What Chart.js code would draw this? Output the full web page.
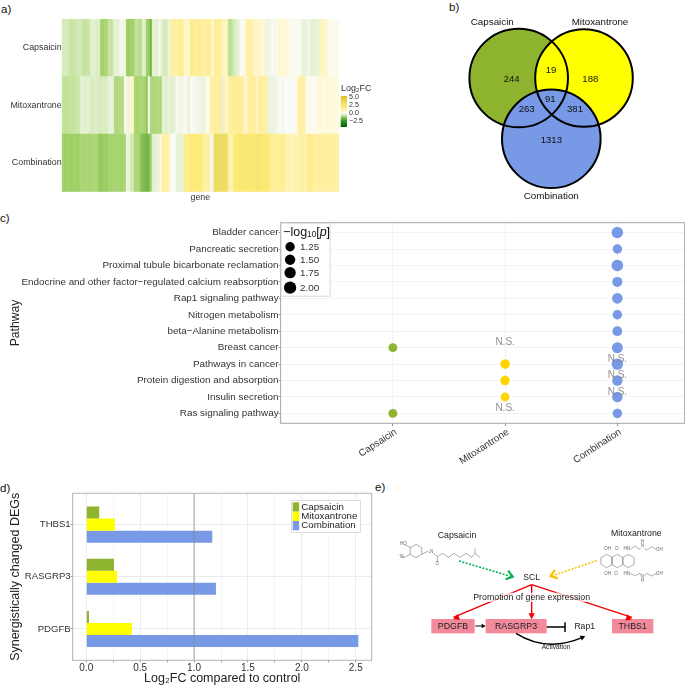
<!DOCTYPE html>
<html><head><meta charset="utf-8">
<script src="https://cdn.jsdelivr.net/npm/chart.js@4"></script>
<style>
html,body{margin:0;padding:0;background:#fff;width:685px;height:688px;overflow:hidden}
canvas{position:absolute;filter:blur(0.35px)}
.tag{position:absolute;font:11.5px "Liberation Sans",Arial,sans-serif;color:#111;line-height:14px}
</style></head><body>
<div class="tag" style="left:1px;top:2px">a)</div>
<div class="tag" style="left:449px;top:0px">b)</div>
<div class="tag" style="left:0px;top:211px">c)</div>
<div class="tag" style="left:0px;top:481px">d)</div>
<div class="tag" style="left:375px;top:480px">e)</div>
<script>
// ---------- panel a data ----------
const heatRows = ['Capsaicin','Mitoxantrone','Combination'];
const heatCapsaicin = [-0.55,-0.5,-0.55,-0.6,-0.75,-0.7,-0.7,-0.6,-0.55,-0.6,-0.75,-0.8,-0.7,-0.7,-0.4,-0.35,-0.4,-0.45,-0.4,-1.1,-1.2,-1.1,-1.05,-0.7,-0.8,-0.6,-0.25,-0.35,-0.25,-0.1,-0.15,-0.1,-1.25,-1.3,-1.2,-1.25,-0.9,-0.85,-0.9,-0.95,-0.4,-0.35,-1.2,-1.3,-1.7,-0.35,-0.3,-0.4,-0.15,-0.2,-0.5,-0.55,-0.5,-0.2,1.0,1.1,1.0,1.0,1.4,1.3,1.3,0.5,0.6,0.4,1.5,1.5,1.1,1.3,1.3,1.3,0.9,1.2,1.2,1.3,1.2,0.1,1.3,1.4,1.3,1.2,0.6,0.8,0.5,-0.8,-0.9,-0.7,-0.5,-0.4,-0.35,0.05,0.1,0.05,1.0,1.1,0.9,0.9,0.6,0.5,0.6,0.5,0.4,0.5,-0.15,-0.2,-0.1,0.0,-0.1,-0.05,0.4,0.5,0.4,0.3,0.4,0.2,0.1,0.05,0.1,0.1,0.05,0.1,-0.3,-0.25,-0.25,-0.1,-0.3,-0.35,-0.3,-0.3,-0.25,0.7,0.6,0.6,0.5,0.1,0.05,0.1,0.05,0.1,0.05];
const heatMitoxantrone = [-0.8,-0.85,-0.8,-0.8,-0.75,-0.8,-0.7,-0.7,-0.65,-0.35,-0.3,-0.4,-0.35,-0.35,-0.45,-0.5,-0.4,-0.45,-0.5,-0.55,-0.5,-0.5,-0.45,-0.3,-0.25,-0.3,-1.0,-1.05,-1.0,-0.95,-1.0,0.3,-0.15,-0.2,0.5,0.6,-1.1,-1.15,-1.1,-1.1,-1.1,-1.2,-1.4,0.05,-1.05,-1.1,-1.05,-1.05,-1.0,-1.1,-0.3,-0.35,-0.4,-0.3,-0.35,-0.4,-0.3,0.1,-0.1,-0.15,-0.1,-0.05,-0.1,-0.3,-0.05,-0.05,-0.05,-0.15,-0.1,-0.2,-0.25,-0.2,0.1,0.05,1.0,1.0,1.3,1.0,1.2,1.2,-0.3,0.9,0.4,1.0,1.3,1.4,1.3,1.3,1.4,1.3,1.2,0.6,0.5,1.2,1.1,1.2,1.2,0.5,1.1,1.2,1.1,1.0,1.1,-0.2,-0.25,-0.2,-0.2,-0.15,-0.05,0.0,-0.1,-0.05,0.0,-0.05,0.0,0.0,0.05,0.0,1.0,1.1,1.0,0.9,0.1,0.2,0.1,0.05,0.2,0.1,0.3,0.4,0.3,0.2,0.4,0.3,0.3,0.2,0.3,0.2,0.3];
const heatCombination = [-1.2,-1.25,-1.2,-1.2,-1.25,-1.2,-1.2,-1.25,-1.2,-1.1,-1.15,-1.1,-1.1,-1.15,-1.1,-1.1,-1.05,-1.1,-1.3,-1.35,-1.3,-1.25,-1.3,-1.15,-1.2,-1.15,-1.15,-1.1,-1.15,-1.2,-1.15,-1.1,-0.2,-0.25,-0.6,-0.6,-1.1,-1.05,-1.1,-1.4,-1.5,-1.6,-1.7,-1.6,-1.2,-0.4,-0.35,-0.3,-0.25,0.3,1.0,1.1,1.0,0.9,0.05,0.0,0.05,-0.3,-0.35,-0.3,-0.25,1.5,1.6,1.5,2.0,2.1,2.0,2.0,1.9,2.0,1.3,1.2,0.9,1.3,-0.1,-0.15,3.4,3.5,3.4,3.4,3.3,3.4,3.2,1.4,0.8,1.0,2.2,2.1,2.2,2.3,2.2,2.3,2.1,2.2,2.3,2.2,2.2,2.3,2.4,2.3,2.2,2.2,2.3,2.2,1.3,1.4,1.3,1.2,1.4,1.3,1.3,1.4,0.8,0.9,0.8,0.7,0.9,0.8,0.9,1.0,1.1,0.9,1.0,1.6,1.5,1.4,1.1,1.0,1.1,1.2,1.1,1.0,1.1,1.2,1.1,1.0,1.1,1.0,1.1];
const heatLegendTicks = [5.0,2.5,0.0,-2.5];
// ---------- panel b data ----------
const vennSets = ['Capsaicin','Mitoxantrone','Combination'];
const vennCounts = [244,19,188,263,91,381,1313];
// ---------- panel c data ----------
const pathways = ['Bladder cancer','Pancreatic secretion','Proximal tubule bicarbonate reclamation','Endocrine and other factor\u2212regulated calcium reabsorption','Rap1 signaling pathway','Nitrogen metabolism','beta\u2212Alanine metabolism','Breast cancer','Pathways in cancer','Protein digestion and absorption','Insulin secretion','Ras signaling pathway'];
const treatments = ['Capsaicin','Mitoxantrone','Combination'];
const pCapsaicin = [null,null,null,null,null,null,null,1.25,null,null,null,1.25];
const pMitoxantrone = [null,null,null,null,null,null,null,null,1.46,1.41,1.25,null];
const pCombination = [1.93,1.41,2.0,1.57,1.72,1.41,1.51,1.83,1.93,1.67,1.67,1.41];
const nsMitoxantrone = ['Breast cancer','Ras signaling pathway'];
const nsCombination = ['Pathways in cancer','Protein digestion and absorption','Insulin secretion'];
const pLegend = [1.25,1.5,1.75,2.0];
// ---------- panel d data ----------
const degGenes = ['PDGFB','RASGRP3','THBS1'];
const fcCapsaicin = [0.025,0.257,0.12];
const fcMitoxantrone = [0.424,0.285,0.266];
const fcCombination = [2.524,1.203,1.169];
const fcTicks = [0,0.25,0.5,0.75,1,1.25,1.5,1.75,2,2.25,2.5];
const fcReference = 1;

// ---------- shared ----------
const FONT = '"Liberation Sans",Arial,sans-serif';
Chart.defaults.font.family = FONT;
Chart.defaults.animation = false;
Chart.defaults.responsive = false;
Chart.defaults.devicePixelRatio = 1;
Chart.defaults.events = [];
Chart.defaults.plugins.legend.display = false;
Chart.defaults.plugins.tooltip.enabled = false;
const GREEN='#8DB32F', YELLOW='#FFFF00', BLUE='#7799E6', GOLD='#FFD500', INK='#333333';

function place(x,y,w,h){
  const c=document.createElement('canvas');
  c.width=w;c.height=h;c.style.left=x+'px';c.style.top=y+'px';
  document.body.appendChild(c);return c.getContext('2d');
}
function fitW(w){return s=>{s.width=w;};}
function fitH(h){return s=>{s.height=h;};}
const frame = color=>({id:'frame',afterDraw(ch){const a=ch.chartArea,c=ch.ctx;c.save();c.strokeStyle=color;c.lineWidth=1;c.strokeRect(a.left,a.top,a.right-a.left,a.bottom-a.top);c.restore();}});

// colour scale for log2FC
const fcStops=[[-4.4,'#005f00'],[-2.5,'#2e9420'],[-1.6,'#79b84a'],[-1.2,'#a3d16a'],[-0.8,'#c3e29b'],[-0.4,'#e0efcc'],[-0.1,'#f4f8ec'],[0,'#fbfbf5'],[0.3,'#fff9dc'],[1,'#fff0a6'],[2,'#fdea78'],[3.4,'#eddc62'],[5,'#e3c52c'],[5.31,'#dfbf24']];
function hex(h){return [1,3,5].map(i=>parseInt(h.substr(i,2),16));}
function fcColor(v){
  for(let i=1;i<fcStops.length;i++){
    if(v<=fcStops[i][0]){
      const [a,ca]=fcStops[i-1],[b,cb]=fcStops[i],t=Math.max(0,(v-a)/(b-a)),A=hex(ca),B=hex(cb);
      return 'rgb('+A.map((q,k)=>Math.round(q+(B[k]-q)*t)).join(',')+')';
    }
  }
  return fcStops[fcStops.length-1][1];
}

// ---------- panel a ----------
const heatSeries=[heatCapsaicin,heatMitoxantrone,heatCombination];
new Chart(place(0,0,440,210),{
  type:'bar',
  data:{labels:heatRows,datasets:heatCapsaicin.map((_,g)=>({
    label:'gene '+(g+1),
    data:heatRows.map(()=>1),
    backgroundColor:heatSeries.map(s=>fcColor(s[g])),
    borderWidth:0,barPercentage:1,categoryPercentage:1
  }))},
  options:{
    indexAxis:'y',
    layout:{padding:{top:19,right:101,left:0,bottom:0}},
    scales:{
      x:{type:'linear',stacked:true,min:0,max:heatCapsaicin.length,grid:{display:false},border:{display:false},
         ticks:{display:false},title:{display:true,text:'gene',color:INK,font:{size:8.9},padding:{top:0,bottom:7}},afterFit:fitH(18.3)},
      y:{stacked:true,grid:{display:false,drawTicks:false},border:{display:false},ticks:{color:INK,font:{size:8.9},padding:0},afterFit:fitW(61.7)}
    }
  },
  plugins:[{id:'heatLegend',afterDraw(ch){
    const c=ch.ctx,top=96,bot=127,x=340.7,w=6.3,hi=5.31,lo=-4.375;
    const g=c.createLinearGradient(0,top,0,bot);
    fcStops.forEach(([v])=>{g.addColorStop(Math.min(1,Math.max(0,(hi-v)/(hi-lo))),fcColor(v));});
    c.save();c.fillStyle=g;c.fillRect(x,top,w,bot-top);
    c.fillStyle=INK;c.font='9px '+FONT;c.textBaseline='middle';c.textAlign='left';
    c.fillText('Log\u2082FC',341,88.7);
    c.font='7.1px '+FONT;
    heatLegendTicks.forEach(v=>{c.fillText(v.toFixed(1).replace('-','\u2212'),349,top+(hi-v)/(hi-lo)*(bot-top)+0.5);});
    c.restore();
  }}]
});

// ---------- panel b ----------
const vennLayout=[{x:78.7,y:78,r:49.3,c:GREEN},{x:144,y:78,r:48.8,c:YELLOW},{x:111.3,y:138.8,r:49.3,c:BLUE}];
const vennCountSpots=[[71.7,79.3],[111,70],[150.3,79.3],[86.7,109.7],[110.3,99.3],[135,109.7],[111.3,140.3]];
const vennNameSpots=[[52.3,22.3],[160,22.3],[111.3,196.7]];
new Chart(place(440,0,245,210),{
  type:'bubble',
  data:{datasets:[
    ...vennLayout.map((v,i)=>({label:vennSets[i]+' outline',data:[{x:v.x,y:v.y,r:v.r}],backgroundColor:'rgba(0,0,0,0)',borderColor:'#000',borderWidth:2,clip:false})),
    ...vennLayout.slice().reverse().map((v,i)=>({label:vennSets[2-i],data:[{x:v.x,y:v.y,r:v.r}],backgroundColor:v.c,borderWidth:0,clip:false}))
  ]},
  options:{layout:{autoPadding:false},scales:{x:{display:false,min:0,max:245},y:{display:false,min:0,max:210,reverse:true}}},
  plugins:[{id:'vennText',afterDatasetsDraw(ch){
    const c=ch.ctx,X=ch.scales.x,Y=ch.scales.y;
    c.save();c.textAlign='center';c.textBaseline='middle';c.fillStyle='#111';
    c.font='9.6px '+FONT;
    vennCounts.forEach((n,i)=>c.fillText(String(n),X.getPixelForValue(vennCountSpots[i][0]),Y.getPixelForValue(vennCountSpots[i][1])));
    c.font='9.8px '+FONT;
    vennSets.forEach((n,i)=>c.fillText(n,X.getPixelForValue(vennNameSpots[i][0]),Y.getPixelForValue(vennNameSpots[i][1])));
    c.restore();
  }}]
});

// ---------- panel c ----------
const rowPos=name=>pathways.length-pathways.indexOf(name);
const pRadius=p=>4.4+1.9*(p-1.25);
const dotData=(arr,col)=>arr.map((p,i)=>p==null?null:{x:col,y:pathways.length-i,r:pRadius(p)}).filter(Boolean);
new Chart(place(0,210,685,260),{
  type:'bubble',
  data:{datasets:[
    {label:'Capsaicin',data:dotData(pCapsaicin,1),backgroundColor:GREEN,borderWidth:0},
    {label:'Mitoxantrone',data:dotData(pMitoxantrone,2),backgroundColor:GOLD,borderWidth:0},
    {label:'Combination',data:dotData(pCombination,3),backgroundColor:BLUE,borderWidth:0}
  ]},
  options:{
    layout:{autoPadding:false,padding:{top:12.7,right:0.3,left:0,bottom:0}},
    scales:{
      x:{type:'linear',min:0,max:3.6,
         afterBuildTicks:a=>{a.ticks=treatments.map((_,i)=>({value:i+1}));},
         grid:{color:'#f3f3f3',tickColor:'#999',tickLength:3},border:{display:false},
         ticks:{autoSkip:false,minRotation:33,maxRotation:33,color:INK,font:{size:9.8},padding:0,labelOffset:3,callback:v=>treatments[v-1]},
         afterFit:fitH(46.7)},
      y:{type:'linear',min:0.4,max:12.6,
         afterBuildTicks:a=>{a.ticks=pathways.map((_,i)=>({value:i+1}));},
         grid:{color:'#f3f3f3',tickColor:'#999',tickLength:2},border:{display:false},
         ticks:{autoSkip:false,color:INK,font:{size:9.9},padding:0,callback:v=>pathways[pathways.length-v]},
         title:{display:true,text:'Pathway',color:'#222',font:{size:12.2},padding:{top:8,bottom:0}},
         afterFit:fitW(280.6)}
    }
  },
  plugins:[frame('#a6a6a6'),{id:'nsAndLegend',afterDraw(ch){
    const c=ch.ctx,X=ch.scales.x,Y=ch.scales.y;
    c.save();
    c.font='10px '+FONT;c.textAlign='center';c.textBaseline='middle';c.fillStyle='rgba(130,130,130,0.9)';
    nsMitoxantrone.forEach(n=>c.fillText('N.S.',X.getPixelForValue(2),Y.getPixelForValue(rowPos(n))-5));
    nsCombination.forEach(n=>c.fillText('N.S.',X.getPixelForValue(3),Y.getPixelForValue(rowPos(n))-5));
    // size legend
    const bx=ch.chartArea.left,by=ch.chartArea.top;
    c.fillStyle='#fff';c.strokeStyle='#d9d9d9';c.lineWidth=1;
    c.fillRect(bx+0.5,by+0.5,49,73);c.strokeRect(bx+0.5,by+0.5,49,73);
    c.fillStyle='#111';c.textAlign='left';
    let tx=bx+2.5;const ty=by+9.5;
    const part=(t,f,dy)=>{c.font=f;c.fillText(t,tx,ty+dy);tx+=c.measureText(t).width;};
    part('\u2212log','12.5px '+FONT,0);part('10','8.2px '+FONT,3);part('[','12.5px '+FONT,0);part('p','italic 12.5px '+FONT,0);part(']','12.5px '+FONT,0);
    const rows=[24,37,50,65];
    pLegend.forEach((p,i)=>{
      c.beginPath();c.arc(bx+9.5,by+rows[i],pRadius(p)+0.3,0,Math.PI*2);c.fillStyle='#000';c.fill();
      c.fillStyle=INK;c.font='9.9px '+FONT;c.fillText(p.toFixed(2),bx+19.5,by+rows[i]+0.3);
    });
    c.restore();
  }}]
});

// ---------- panel d ----------
const barRow=arr=>arr.map((v,i)=>({x:v,y:i+1}));
new Chart(place(0,470,375,218),{
  type:'bar',
  data:{datasets:[
    {label:'Capsaicin',data:barRow(fcCapsaicin),backgroundColor:GREEN},
    {label:'Mitoxantrone',data:barRow(fcMitoxantrone),backgroundColor:YELLOW},
    {label:'Combination',data:barRow(fcCombination),backgroundColor:BLUE}
  ].map(d=>({...d,barPercentage:1,categoryPercentage:0.692,borderWidth:0}))},
  options:{
    indexAxis:'y',
    layout:{padding:{top:23.3,right:3.3,left:0,bottom:0}},
    scales:{
      x:{type:'linear',min:-0.126,max:2.648,
         afterBuildTicks:a=>{a.ticks=fcTicks.map(v=>({value:v}));},
         grid:{color:c=>(c.tick&&c.tick.value*2%1===0)?'#ececec':'#f6f6f6',tickColor:'#999',tickLength:2},border:{display:false},
         ticks:{autoSkip:false,maxRotation:0,color:INK,font:{size:10},padding:0,callback:v=>(v*2%1===0)?v.toFixed(1):''},
         title:{display:true,text:'Log\u2082FC compared to control',color:'#222',font:{size:12.5},padding:{top:0,bottom:1.5}},
         afterFit:fitH(27.7)},
      y:{type:'linear',offset:false,min:0.4,max:3.6,
         afterBuildTicks:a=>{a.ticks=degGenes.map((_,i)=>({value:i+1}));},
         grid:{offset:false,color:'#ececec',tickColor:'#999',tickLength:2},border:{display:false},
         ticks:{autoSkip:false,color:INK,font:{size:9.6},padding:0,callback:v=>degGenes[v-1]},
         title:{display:true,text:'Synergistically changed DEGs',color:'#222',font:{size:12.5},padding:{top:8,bottom:0}},
         afterFit:fitW(72.7)}
    }
  },
  plugins:[frame('#b3b3b3'),{id:'refAndLegend',afterDatasetsDraw(ch){
    const c=ch.ctx,a=ch.chartArea,x=ch.scales.x.getPixelForValue(fcReference);
    c.save();c.strokeStyle='rgba(130,130,130,0.45)';c.lineWidth=1.6;c.beginPath();c.moveTo(x,a.top);c.lineTo(x,a.bottom);c.stroke();
    c.fillStyle='#fff';c.strokeStyle='#dddddd';c.lineWidth=1;
    c.fillRect(291.5,30.5,69,32);c.strokeRect(291.5,30.5,69,32);
    c.textBaseline='middle';c.textAlign='left';c.font='9.7px '+FONT;
    ch.data.datasets.forEach((d,i)=>{
      c.fillStyle=d.backgroundColor;c.fillRect(292.7,32.3+i*9.33,6.4,9.33);
      c.fillStyle='#222';c.fillText(d.label,301.3,37+i*9.33);
    });
    c.restore();
  }}]
});

// ---------- panel e (diagram, no data values) ----------
const Z=(zx,zy)=>[380+zx/3-375,470+zy/3-470];   // reference pixel to canvas pixel
function poly(c,pts,color,w,dash){c.save();c.strokeStyle=color;c.lineWidth=w;if(dash)c.setLineDash(dash);c.beginPath();pts.forEach((p,i)=>{const [x,y]=Z(p[0],p[1]);i?c.lineTo(x,y):c.moveTo(x,y);});c.stroke();c.restore();}
function head(c,from,to,color,len,wid){
  const [x0,y0]=Z(from[0],from[1]),[x1,y1]=Z(to[0],to[1]),ang=Math.atan2(y1-y0,x1-x0);
  c.save();c.translate(x1,y1);c.rotate(ang);c.fillStyle=color;c.beginPath();c.moveTo(0,0);c.lineTo(-len,wid);c.lineTo(-len,-wid);c.closePath();c.fill();c.restore();
}
function chevron(c,from,to,color){
  const [x0,y0]=Z(from[0],from[1]),[x1,y1]=Z(to[0],to[1]),ang=Math.atan2(y1-y0,x1-x0);
  c.save();c.translate(x1,y1);c.rotate(ang);c.strokeStyle=color;c.lineWidth=2.2;c.beginPath();c.moveTo(-6,-4.5);c.lineTo(0,0);c.lineTo(-6,4.5);c.stroke();c.restore();
}
function hexagon(c,cx,cy,r,col,w){const p=[];for(let i=0;i<=6;i++){const a=Math.PI/6+i*Math.PI/3;p.push([cx+r*Math.cos(a),cy+r*Math.sin(a)]);}poly(c,p,col,w);}
function label(c,t,zx,zy,size,color){c.font=size+'px '+FONT;c.fillStyle=color||'#222';c.textAlign='center';c.textBaseline='middle';const [x,y]=Z(zx,zy);c.fillText(t,x,y);}
const PINK='#F28A9C', RED='#F00000', CHEM='#8a8a8a';
new Chart(place(375,470,310,218),{
  type:'scatter',
  data:{datasets:[]},
  options:{scales:{x:{display:false,min:0,max:310},y:{display:false,min:0,max:218,reverse:true}}},
  plugins:[{id:'pathwayDiagram',afterDraw(ch){
    const c=ch.ctx;c.save();
    // capsaicin structure
    hexagon(c,108,243,20,CHEM,0.7);
    poly(c,[[92,233],[74,224]],CHEM,0.7);
    poly(c,[[90,253],[72,263],[58,254]],CHEM,0.7);
    poly(c,[[126,253],[142,244],[150,248]],CHEM,0.7);
    poly(c,[[160,250],[172,260],[188,250],[205,262],[222,250],[240,262],[258,250],[275,262],[285,250],[300,262]],CHEM,0.7);
    poly(c,[[285,250],[285,235]],CHEM,0.7);
    poly(c,[[172,260],[172,277]],CHEM,0.7);
    label(c,'HO',70,222,4.5,'#666');label(c,'O',66,260,4.5,'#666');label(c,'N',155,244,4.5,'#666');label(c,'O',172,282,4.5,'#666');
    // mitoxantrone structure
    hexagon(c,680,273,20,CHEM,0.7);hexagon(c,712,273,20,CHEM,0.7);hexagon(c,745,273,20,CHEM,0.7);
    poly(c,[[752,238],[765,228],[780,238],[783,235]],CHEM,0.7);
    poly(c,[[793,235],[800,240],[815,230],[828,238]],CHEM,0.7);
    poly(c,[[752,310],[765,318],[780,310],[783,315]],CHEM,0.7);
    poly(c,[[793,317],[800,310],[815,318],[830,310]],CHEM,0.7);
    [['OH',683,237],['O',710,237],['HN',740,237],['N',787,227],['H',787,216],['OH',838,238],['OH',683,310],['O',708,310],['HN',740,310],['N',787,320],['H',787,331],['OH',838,310]].forEach(a=>label(c,a[0],a[1],a[2],4.5,'#666'));
    // dotted inputs
    poly(c,[[237,273],[392,319]],'#00B050',1.5,[2,1.5]);chevron(c,[237,273],[398,320],'#00B050');
    poly(c,[[650,272],[518,317]],'#FFC000',1.5,[2,1.5]);chevron(c,[650,272],[512,318],'#FFC000');
    // gene boxes
    c.fillStyle=PINK;
    [[154,447,284,490],[317,447,500,490],[696,447,820,490]].forEach(b=>{const [x0,y0]=Z(b[0],b[1]),[x1,y1]=Z(b[2],b[3]);c.fillRect(x0,y0,x1-x0,y1-y0);});
    // red promotion arrows
    [[220,448],[455,448],[756,448]].forEach(t=>{poly(c,[[455,344],[t[0],t[1]-6]],RED,1.4);head(c,[455,344],t,RED,6,3.2);});
    // white veil behind the promotion text
    {const [x0,y0]=Z(280,368),[x1,y1]=Z(630,396);c.fillStyle='rgba(255,255,255,0.72)';c.fillRect(x0,y0,x1-x0,y1-y0);}
    label(c,'Capsaicin',231,196,8.8);label(c,'Mitoxantrone',769,192,8.8);
    label(c,'SCL',455,322,8.6);label(c,'Promotion of gene expression',455,382,8.8);
    label(c,'PDGFB',219,469,8.8);label(c,'RASGRP3',408,469,8.8);label(c,'THBS1',758,469,8.8);label(c,'Rap1',614,471,8.6);
    label(c,'Activation',528,533,6.6);
    // small arrow and inhibition
    poly(c,[[286,468],[310,468]],'#000',1);head(c,[286,468],[317,468],'#000',4,2.2);
    poly(c,[[500,471],[555,471]],'#000',1.5);poly(c,[[555,457],[555,486]],'#000',1.5);
    // activation arc
    {const [a,b]=Z(408,490),[d,e]=Z(500,548),[f,g]=Z(606,503);c.strokeStyle='#000';c.lineWidth=1.4;c.beginPath();c.moveTo(a,b);c.quadraticCurveTo(d,e,f,g);c.stroke();head(c,[570,520],[616,498],'#000',5,2.6);}
    c.restore();
  }}]
});
</script>
</body></html>
